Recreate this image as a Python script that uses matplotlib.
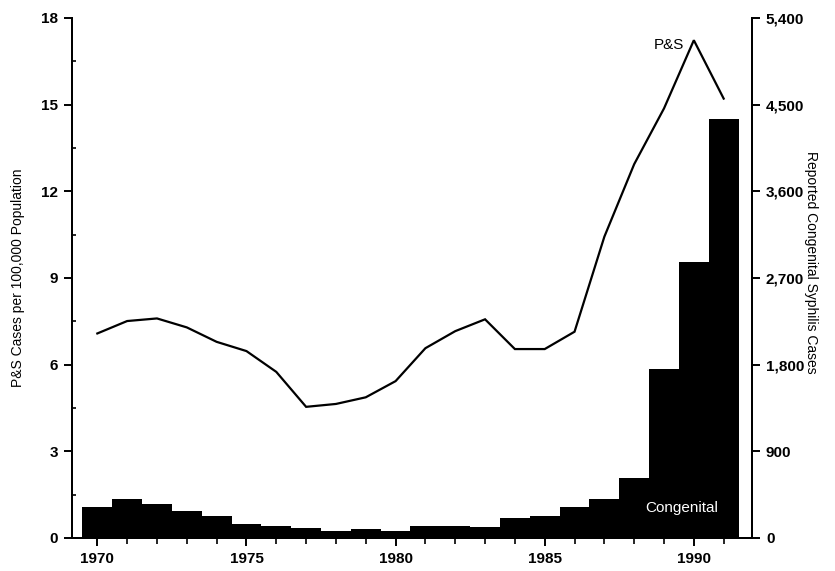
import numpy as np
import matplotlib
matplotlib.use("Agg")
import matplotlib.pyplot as plt
from matplotlib.ticker import MultipleLocator, FuncFormatter

plt.rcParams['font.family'] = ['Liberation Sans', 'DejaVu Sans']

years = np.arange(1970, 1992)
# primary & secondary syphilis, cases per 100,000
ps_rate = [7.08, 7.51, 7.60, 7.29, 6.79, 6.47, 5.75, 4.54, 4.64, 4.87, 5.43,
           6.57, 7.16, 7.57, 6.54, 6.54, 7.14, 10.43, 12.94, 14.87, 17.23, 15.21]
# reported congenital syphilis cases
congenital = [320, 410, 350, 284, 232, 149, 128, 107, 76, 90, 76,
              128, 125, 117, 211, 228, 319, 405, 626, 1755, 2870, 4350]

fig = plt.figure(figsize=(8.35, 5.71), dpi=100)
ax = fig.add_axes([0.0862, 0.0578, 0.8144, 0.9107])
ax2 = ax.twinx()

# bars on the right axis, line on the left axis drawn on top
ax2.bar(years, congenital, width=1.0, color='black', edgecolor='black', linewidth=0)
ax.set_zorder(ax2.get_zorder() + 1)
ax.patch.set_visible(False)
ax.plot(years, ps_rate, color='black', lw=1.6, solid_joinstyle='miter')

ax.set_xlim(1969.15, 1991.95)
ax.set_ylim(0, 18)
ax2.set_ylim(0, 5400)

ax.xaxis.set_major_locator(MultipleLocator(5))
ax.xaxis.set_minor_locator(MultipleLocator(1))
ax.yaxis.set_major_locator(MultipleLocator(3))
ax.yaxis.set_minor_locator(MultipleLocator(1.5))
ax2.yaxis.set_major_locator(MultipleLocator(900))
ax2.yaxis.set_major_formatter(FuncFormatter(lambda v, p: f"{int(v):,}"))

for a in (ax, ax2):
    a.spines['top'].set_visible(False)
    for s in a.spines.values():
        s.set_linewidth(1.4)

ax.tick_params(axis='both', which='major', direction='out', length=6, width=1.4,
               labelsize=11, pad=4)
ax.tick_params(axis='x', which='minor', direction='out', length=4, width=1.2)
ax.tick_params(axis='y', which='minor', direction='in', length=3, width=1.2)
ax2.tick_params(axis='y', which='major', direction='out', length=6, width=1.4,
                labelsize=11, pad=4)

for lbl in ax.get_xticklabels() + ax.get_yticklabels() + ax2.get_yticklabels():
    lbl.set_fontweight('bold')

ax.set_ylabel("P&S Cases per 100,000 Population", fontsize=10)
ax.yaxis.set_label_coords(-0.0697, 0.5)
ax2.set_ylabel("Reported Congenital Syphilis Cases", fontsize=10, rotation=270,
               va='center')
ax2.yaxis.set_label_coords(1.0865, 0.531)

ax.text(1989.15, 17.05, "P&S", fontsize=11, ha='center', va='center')
ax2.text(1989.6, 310, "Congenital", fontsize=11, color='white', ha='center',
         va='center')

fig.savefig("out.png", dpi=100)
